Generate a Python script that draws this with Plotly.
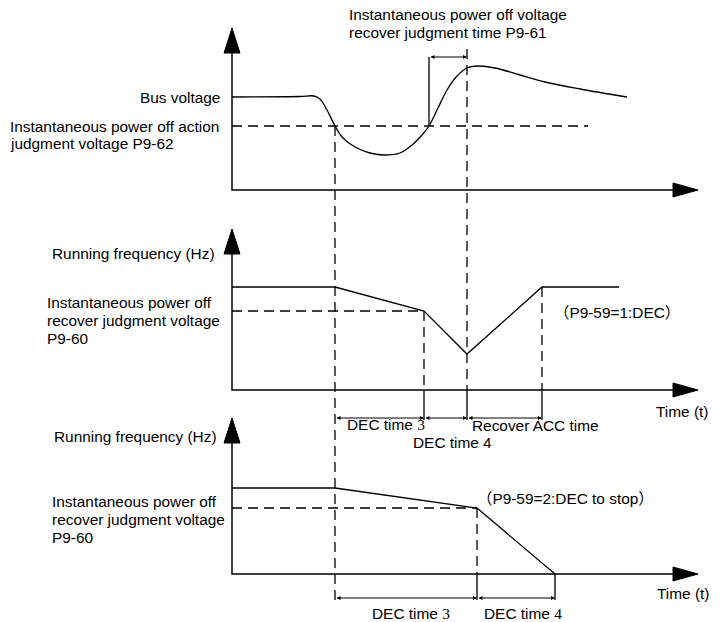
import plotly.graph_objects as go

# layout in screen pixels of the 727x622 picture (y grows downwards)
axis_x0 = 232
axis_x_tip = 698
panel_base = [190, 390, 574]
panel_tip = [28, 229, 418]

# panel 1: bus voltage curve
bus_x = [232, 300, 314, 320, 327, 335, 343, 355, 370, 385, 400, 412, 422, 429,
         438, 447, 457, 467, 478, 495, 520, 545, 580, 627]
bus_y = [97, 96.5, 96, 99, 110, 126, 138, 147, 153, 155, 153, 145, 135, 126,
         108, 90, 76, 68, 66, 68, 75, 82, 89, 97]
action_level = 126
action_end = 588

# panel 2: running frequency, P9-59=1
f1_x = [232, 335, 424, 467, 542, 619]
f1_y = [287, 287, 311, 354, 287, 287]
recover1_level = 311

# panel 3: running frequency, P9-59=2
f2_x = [232, 335, 477, 555]
f2_y = [488, 488, 508, 574]
recover2_level = 508

t_power_off = 335
t_recover = 467
t_judge_start = 429
dim1_y = 57
dim2_y = 418
dim3_y = 598
dim2_marks = [335, 424, 467, 542]
dim3_marks = [335, 477, 555]

BLACK = '#000000'
FONT = 'Arial, Liberation Sans, sans-serif'
DASH = '10px,6px'

fig = go.Figure()


def line(x, y, dash='solid', width=1.3, shape='linear'):
    fig.add_trace(go.Scatter(x=x, y=y, mode='lines',
                             line=dict(color=BLACK, width=width, dash=dash, shape=shape),
                             showlegend=False, hoverinfo='skip'))


def poly(x, y):
    fig.add_trace(go.Scatter(x=x, y=y, mode='lines', fill='toself', fillcolor=BLACK,
                             line=dict(color=BLACK, width=1),
                             showlegend=False, hoverinfo='skip'))


# axes with arrowheads
for base, tip in zip(panel_base, panel_tip):
    line([axis_x0, axis_x0, axis_x_tip - 20], [tip + 20, base, base], width=1.5)
    poly([axis_x0 - 8, axis_x0, axis_x0 + 8, axis_x0 - 8], [tip + 25, tip, tip + 25, tip + 25])
    poly([axis_x_tip - 25, axis_x_tip, axis_x_tip - 25, axis_x_tip - 25],
         [base - 7, base, base + 7, base - 7])

# panel 1
line(bus_x, bus_y, shape='spline')
line([axis_x0, action_end], [action_level, action_level], dash=DASH)
line([t_judge_start, t_judge_start], [action_level, dim1_y])
line([t_recover, t_recover], [dim1_y - 8, panel_base[1]], dash=DASH)

# long dashed marker of the power-off instant
line([t_power_off, t_power_off], [action_level, dim3_y + 2], dash=DASH)

# panel 2
line(f1_x, f1_y)
line([axis_x0, f1_x[2]], [recover1_level, recover1_level], dash=DASH)
line([f1_x[2], f1_x[2]], [recover1_level, panel_base[1]], dash=DASH)
line([f1_x[4], f1_x[4]], [f1_y[4], panel_base[1]], dash=DASH)
for xm in dim2_marks[1:]:
    line([xm, xm], [panel_base[1], dim2_y + 2])

# panel 3
line(f2_x, f2_y)
line([axis_x0, f2_x[2]], [recover2_level, recover2_level], dash=DASH)
line([f2_x[2], f2_x[2]], [recover2_level, panel_base[2]], dash=DASH)
for xm in dim3_marks[1:]:
    line([xm, xm], [panel_base[2], dim3_y + 2])

annotations = []


def dim_arrow(x0, x1, y):
    annotations.append(dict(x=x1, y=y, ax=x0, ay=y, xref='x', yref='y', axref='x', ayref='y',
                            text='', showarrow=True, arrowside='end+start', arrowhead=2,
                            arrowsize=0.8, arrowwidth=1, arrowcolor=BLACK, standoff=0,
                            startstandoff=0))


dim_arrow(t_judge_start, t_recover, dim1_y)
for a, b in zip(dim2_marks[:-1], dim2_marks[1:]):
    dim_arrow(a, b, dim2_y)
for a, b in zip(dim3_marks[:-1], dim3_marks[1:]):
    dim_arrow(a, b, dim3_y)


def label(x, y, text, anchor='left'):
    annotations.append(dict(x=x, y=y, xref='x', yref='y', text=text, showarrow=False,
                            xanchor=anchor, yanchor='middle', align=anchor,
                            font=dict(family=FONT, size=15.4, color=BLACK)))


serif = '<span style="font-family:Liberation Serif, serif">{}</span>'
cjk = '<span style="font-family:Noto Sans CJK SC">{}</span>'

label(347, 14, 'Instantaneous power off voltage')
label(347, 32, 'recover judgment time P9-61')
label(222, 97, 'Bus voltage', 'right')
label(8, 126, 'Instantaneous power off action')
label(8, 143, 'judgment voltage P9-62')

label(50, 253, 'Running frequency (Hz)')
label(45, 302, 'Instantaneous power off')
label(45, 320, 'recover judgment voltage')
label(45, 338, 'P9-60')
label(552, 311, cjk.format('（') + 'P9-59=1:DEC' + cjk.format('）'))
label(654, 411, 'Time (t)')
label(345, 424, 'DEC time ' + serif.format('3'))
label(411, 442, 'DEC time 4')
label(470, 425, 'Recover ACC time')

label(52, 436, 'Running frequency (Hz)')
label(50, 501, 'Instantaneous power off')
label(50, 519, 'recover judgment voltage')
label(50, 537, 'P9-60')
label(475, 497, cjk.format('（') + 'P9-59=2:DEC to stop' + cjk.format('）'))
label(655, 593, 'Time (t)')
label(370, 613, 'DEC time ' + serif.format('3'))
label(482, 613, 'DEC time ' + serif.format('4'))

fig.update_layout(
    width=727, height=622,
    margin=dict(l=0, r=0, t=0, b=0),
    paper_bgcolor='white', plot_bgcolor='white',
    xaxis=dict(range=[0, 727], visible=False, fixedrange=True),
    yaxis=dict(range=[622, 0], visible=False, fixedrange=True),
    annotations=annotations,
    showlegend=False,
)

fig.write_html("out.html", config={'displayModeBar': False},
               post_script="document.body.style.margin='0';")
